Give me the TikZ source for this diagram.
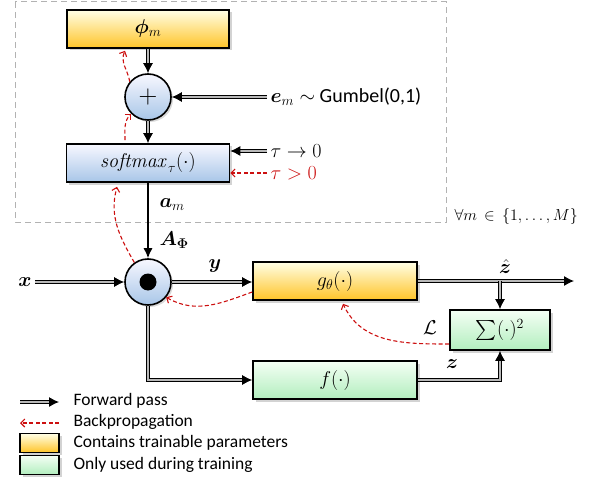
\RequirePackage{fix-cm}
\documentclass[tikz,border=0pt]{standalone}
\usepackage{amsmath,amssymb,bm}
\usepackage[no-math]{fontspec}
\setmainfont{Carlito}
\usepackage{xcolor}
\usepackage{tikz}
\usetikzlibrary{arrows.meta,positioning,shadows,calc}

\definecolor{bpred}{RGB}{204,16,16}

\tikzset{
    block/.style={draw=black, line width=1.6pt, minimum height=38pt,
        drop shadow={shadow xshift=2.5pt, shadow yshift=-2.5pt, opacity=0.35}},
    yblock/.style={block, top color=yellow!10, bottom color={rgb,255:red,255;green,196;blue,40}},
    bblock/.style={block, top color=blue!3, bottom color={rgb,255:red,168;green,198;blue,232}},
    gblock/.style={block, top color=green!4, bottom color={rgb,255:red,178;green,238;blue,190}},
    op/.style={circle, draw=black, line width=1.6pt, minimum size=46pt, inner sep=0pt,
        top color=blue!3, bottom color={rgb,255:red,168;green,198;blue,232},
        drop shadow={shadow xshift=2pt, shadow yshift=-2pt, opacity=0.3}},
    fwd/.style={double=gray!55, double distance=2pt, line width=1.1pt,
        -{Latex[length=10pt,width=10pt]}},
    bwd/.style={bpred, line width=1.1pt, dash pattern=on 4pt off 2.5pt,
        -{Straight Barb[length=4pt,width=8pt]}},
    big/.style={font=\fontsize{20}{24}\selectfont},
    small/.style={font=\fontsize{16}{19}\selectfont},
    legend/.style={font=\fontsize{17.5}{21}\selectfont, anchor=west},
}

\begin{document}
\begin{tikzpicture}[x=1pt, y=1pt]
    \useasboundingbox (0,0) rectangle (591,480);

    % Repeated part
    \draw[gray!60, line width=1pt, dash pattern=on 6pt off 4pt] (15,478) rectangle (446,258);
    \node[anchor=west, small] (forall) at (451,264)
        {$\forall m\,\in\,\{1,\ldots,M\}$};

    % Blocks
    \node[yblock, big, minimum width=162pt] (phi) at (148,451) {$\bm{\phi}_m$};
    \node[op, font=\fontsize{26}{30}\selectfont] (plus) at (148,383) {$+$};
    \node[bblock, big, minimum width=163pt] (soft) at (148,317)
        {$\mathit{softmax}_{\tau}(\cdot)$};
    \node[op] (dotc) at (148,198) {};
    \fill (dotc.center) circle (8.5pt);
    \node[yblock, big, minimum width=164pt] (g) at (335,199) {$g_{\theta}(\cdot)$};
    \node[gblock, big, minimum width=100pt, minimum height=40pt] (sq) at (500,150)
        {$\sum(\cdot)^2$};
    \node[gblock, big, minimum width=164pt] (f) at (335,100) {$f(\cdot)$};

    % Inputs and labels
    \node[anchor=west, big] (em) at (267,383) {$\bm{e}_m \sim$ Gumbel(0,1)};
    \node[anchor=west, big] (tau0) at (267,329) {$\tau \rightarrow 0$};
    \node[anchor=west, big, text=bpred] (taup) at (267,307) {$\tau > 0$};
    \node[anchor=west, big] (am) at (156,275) {$\bm{a}_m$};
    \node[anchor=west, big] (aphi) at (156,240) {$\bm{A}_{\bm{\Phi}}$};
    \node[big] (x) at (25,198) {$\bm{x}$};
    \node[big] (y) at (215,214) {$\bm{y}$};
    \node[big, anchor=south] (zhat) at (505,203) {$\hat{\bm{z}}$};
    \node[big] (loss) at (430,152) {$\mathcal{L}$};
    \node[big] (z) at (452,116) {$\bm{z}$};
    \coordinate (out) at (574,199);
    \coordinate (split) at (500,199);

    % Forward pass
    \draw[fwd] (phi) -- (plus);
    \draw[fwd] (plus) -- (soft);
    \draw[fwd] (em.west) -- (plus.east);
    \draw[fwd] (tau0.west) -- (soft.east |- tau0.west);
    \draw[-{Latex[length=10pt,width=9pt]}, line width=1.3pt] (soft) -- (dotc);
    \draw[fwd] (x) -- (dotc);
    \draw[fwd] (dotc.east) -- (dotc.east -| g.west);
    \draw[fwd] (g.east |- split) -- (out);
    \draw[fwd] (split) -- (sq);
    \draw[fwd] (dotc.south) |- (f.west);
    \draw[fwd] (f.east) -| (sq.south);

    % Backpropagation
    \draw[bwd] (taup.west) -- (soft.east |- taup.west);
    \draw[bwd] (plus.140) to[out=100, in=-115] ($(phi.south)+(-23,-2)$);
    \draw[bwd] ($(soft.north)+(-23,3)$) to[out=90, in=-135] (plus.225);
    \draw[bwd] (dotc.125) to[out=120, in=-105] ($(soft.south)+(-31,-4)$);
    \draw[bwd] ($(g.west)+(0,-11)$) to[out=200, in=-30] (dotc.-40);
    \draw[bwd] ($(sq.west)+(0,-14)$) to[out=180, in=-65] ($(g.south)+(8,-3)$);

    % Legend
    \coordinate (fa) at (20,78);
    \coordinate (fb) at (59,78);
    \coordinate (ba) at (20,57);
    \coordinate (bb) at (59,57);
    \draw[fwd] (fa) -- (fb);
    \draw[bwd] (bb) -- (ba);
    \node[legend] (lf) at (70,79) {Forward pass};
    \node[legend] (lb) at (70,58) {Backpropagation};
    \node[yblock, minimum width=39pt, minimum height=19pt, line width=1.4pt] (ly) at (39.5,37) {};
    \node[gblock, minimum width=39pt, minimum height=19pt, line width=1.4pt] (lg) at (39.5,15) {};
    \node[legend] (ty) at (70,37) {Contains trainable parameters};
    \node[legend] (tg) at (70,15) {Only used during training};
\end{tikzpicture}
\end{document}
